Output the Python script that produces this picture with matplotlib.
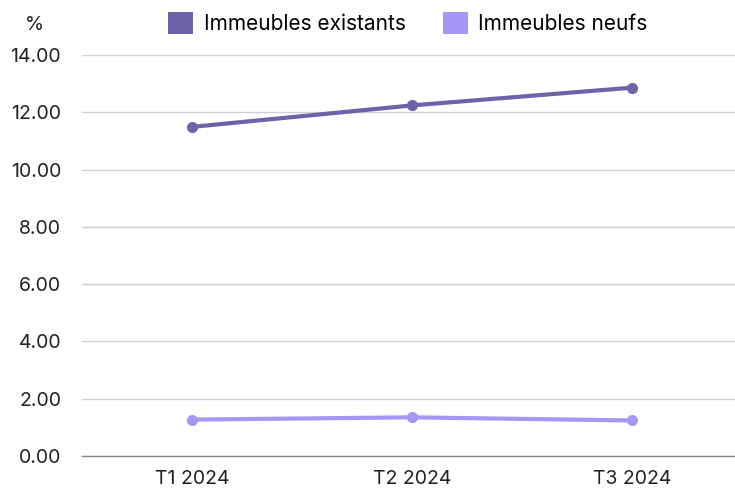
import matplotlib
matplotlib.use("Agg")
import matplotlib.pyplot as plt
from matplotlib.patches import Patch

plt.rcParams["font.family"] = ["Inter", "DejaVu Sans"]

quarters = ["T1 2024", "T2 2024", "T3 2024"]
existants = [11.49, 12.24, 12.86]
neufs = [1.27, 1.35, 1.24]
yticks = [0, 2, 4, 6, 8, 10, 12, 14]

c_exist = "#6E63A8"
c_neuf = "#A597F5"

fig = plt.figure(figsize=(7.35, 4.88), dpi=100)
ax = fig.add_axes([82 / 735, 1 - 456 / 488, 660 / 735, (456 - 55) / 488])

x = range(len(quarters))
ax.plot(x, existants, color=c_exist, lw=3, marker="o", ms=7, solid_capstyle="round")
ax.plot(x, neufs, color=c_neuf, lw=3, marker="o", ms=7, solid_capstyle="round")

ax.set_xlim(-0.5, 2.5)
ax.set_ylim(0, 14)
ax.set_xticks(list(x))
ax.set_xticklabels(quarters)
ax.set_yticks(yticks)
ax.set_yticklabels([f"{v:.2f}" for v in yticks])
ax.tick_params(axis="both", length=0, labelsize=14, colors="#222222")
ax.tick_params(axis="y", pad=15)
ax.tick_params(axis="x", pad=10)
ax.grid(axis="y", color="#d0d0d0", lw=1)
ax.set_axisbelow(True)
for s in ["top", "right", "left"]:
    ax.spines[s].set_visible(False)
ax.spines["bottom"].set_color("#888888")
ax.spines["bottom"].set_linewidth(1)

fig.text(34 / 735, 1 - 25 / 488, "%", fontsize=14, ha="center", va="center", color="#222222")

handles = [Patch(facecolor=c_exist, label="Immeubles existants"),
           Patch(facecolor=c_neuf, label="Immeubles neufs")]
fig.legend(handles=handles, loc="center", bbox_to_anchor=(408 / 735, 1 - 23 / 488),
           ncol=2, frameon=False, fontsize=15, handlelength=1.2, handleheight=1.2,
           handletextpad=0.5, columnspacing=1.8)

fig.savefig("out.png", dpi=100)
